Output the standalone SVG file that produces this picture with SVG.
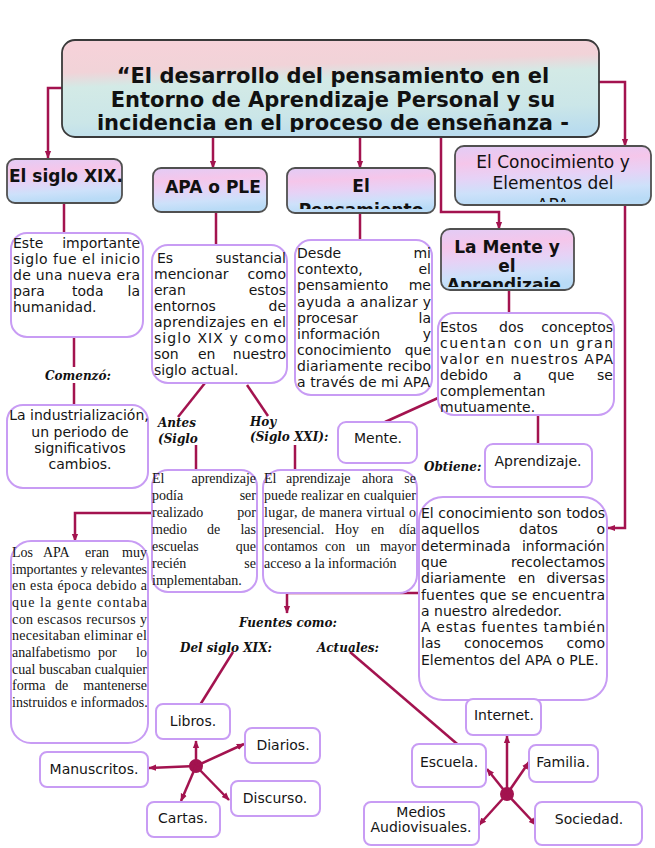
<svg xmlns="http://www.w3.org/2000/svg" width="655" height="848" viewBox="0 0 655 848">
<defs>
<style>
.c{fill:none;stroke:#a3134f;stroke-width:2.5}
.a{fill:none;stroke:#a3134f;stroke-width:2.5;marker-end:url(#ar)}
.box{fill:#fff;stroke:#c89cf4;stroke-width:2}
.hdr{fill:url(#hg);stroke:#505050;stroke-width:1.8}
.t{font-family:"DejaVu Sans",sans-serif;font-size:14px;fill:#151515}
.s{font-family:"Liberation Serif","Times New Roman",serif;font-size:14px;fill:#151515}
.l{font-family:"DejaVu Serif",serif;font-weight:bold;font-style:italic;font-size:12px;fill:#111}
.h{font-family:"DejaVu Sans",sans-serif;font-weight:bold;font-size:17px;fill:#111}
.hr{font-family:"DejaVu Sans",sans-serif;font-size:17px;fill:#111}
.ttl{font-family:"DejaVu Sans",sans-serif;font-weight:bold;font-size:21px;fill:#111}
.e{text-anchor:end}
.m{text-anchor:middle}
</style>
<linearGradient id="tg" x1="0.4" y1="0" x2="0.6" y2="1">
<stop offset="0" stop-color="#f6d2d9"/>
<stop offset="0.25" stop-color="#f1d3d8"/>
<stop offset="0.4" stop-color="#d3eae6"/>
<stop offset="0.75" stop-color="#cbe6e8"/>
<stop offset="1" stop-color="#b9dcee"/>
</linearGradient>
<linearGradient id="hg" x1="0" y1="0" x2="0.15" y2="1">
<stop offset="0" stop-color="#e2ccf6"/>
<stop offset="0.3" stop-color="#f5c6ea"/>
<stop offset="0.55" stop-color="#e6d2f6"/>
<stop offset="0.8" stop-color="#cde1fa"/>
<stop offset="1" stop-color="#b9dbf6"/>
</linearGradient>
<marker id="ar" viewBox="0 0 10 10" refX="9" refY="5" markerWidth="8" markerHeight="8" markerUnits="userSpaceOnUse" orient="auto">
<path d="M0,1 L10,5 L0,9 z" fill="#a3134f"/>
</marker>
<clipPath id="cpT"><rect x="62" y="40" width="537" height="92"/></clipPath>
<clipPath id="cpP"><rect x="287" y="168" width="148" height="41"/></clipPath>
<clipPath id="cpC"><rect x="455" y="146" width="195" height="56"/></clipPath>
<clipPath id="cpM"><rect x="441" y="229" width="133" height="58"/></clipPath>
</defs>

<g id="connectors">
<path class="a" d="M62,88 H48 V158"/>
<path class="a" d="M213,137 V168"/>
<path class="a" d="M360,137 V168"/>
<path class="a" d="M441,137 V212 H499 V229"/>
<path class="a" d="M599,82 H625 V146"/>
<path class="c" d="M64,203 V233"/>
<path class="c" d="M74,337 V367"/>
<path class="c" d="M74,383 V405"/>
<path class="c" d="M216,212 V245"/>
<path class="c" d="M205,383 L178,417"/>
<path class="c" d="M247,385 L268,416"/>
<path class="c" d="M196,445 V470"/>
<path class="c" d="M295,445 V470"/>
<path class="a" d="M152,513 H75 V541"/>
<path class="c" d="M360,213 V240"/>
<path class="c" d="M509,290 V313"/>
<path class="c" d="M438,398 L385,422"/>
<path class="c" d="M538,415 V444"/>
<path class="a" d="M625,205 V528 H608"/>
<path class="a" d="M419,593 H287 V613"/>
<path class="c" d="M233,652 L200,705"/>
<path class="c" d="M350,652 L463,749"/>
<circle cx="196" cy="766" r="7" fill="#a3134f"/>
<path class="a" d="M196,766 V741"/>
<path class="a" d="M196,766 L244,744"/>
<path class="a" d="M196,766 L149,768"/>
<path class="a" d="M196,766 L229,800"/>
<path class="a" d="M196,766 L181,801"/>
<circle cx="507" cy="794" r="7" fill="#a3134f"/>
<path class="a" d="M507,794 V736"/>
<path class="a" d="M507,794 L487,769"/>
<path class="a" d="M507,794 L529,762"/>
<path class="a" d="M507,794 L479,825"/>
<path class="a" d="M507,794 L536,825"/>
</g>

<g id="title">
<rect x="62" y="40" width="537" height="97" rx="13" fill="url(#tg)" stroke="#3a3a3a" stroke-width="1.8"/>
<g clip-path="url(#cpT)">
<text class="ttl m" x="333" y="83">“El desarrollo del pensamiento en el</text>
<text class="ttl m" x="333" y="107">Entorno de Aprendizaje Personal y su</text>
<text class="ttl m" x="333" y="130">incidencia en el proceso de enseñanza -</text>
</g>
</g>

<g id="n-sigloXIX">
<rect class="hdr" x="7" y="159" width="115" height="44" rx="8"/>
<text class="h" x="9" y="182">El siglo XIX.</text>
</g>

<g id="n-apaple">
<rect class="hdr" x="153" y="168" width="114" height="44" rx="8"/>
<text class="h m" x="213" y="193">APA o PLE</text>
</g>

<g id="n-pensamiento">
<rect class="hdr" x="287" y="168" width="148" height="45" rx="8"/>
<g clip-path="url(#cpP)">
<text class="h m" x="361" y="192">El</text>
<text class="h m" x="361" y="216">Pensamiento</text>
</g>
</g>

<g id="n-conocimiento">
<rect class="hdr" x="455" y="146" width="196" height="59" rx="9"/>
<g clip-path="url(#cpC)">
<text class="hr m" x="553" y="168">El Conocimiento y</text>
<text class="hr m" x="553" y="189">Elementos del</text>
<text class="hr m" x="553" y="211">APA</text>
</g>
</g>

<g id="n-mente">
<rect class="hdr" x="441" y="229" width="133" height="61" rx="9"/>
<g clip-path="url(#cpM)">
<text class="h m" x="507" y="253">La Mente y</text>
<text class="h m" x="507" y="272">el</text>
<text class="h m" x="507" y="291">Aprendizaje.</text>
</g>
</g>

<g id="n-este">
<rect class="box" x="11" y="233" width="132" height="104" rx="16"/>
<text class="t" x="13" y="248">Este</text><text class="t e" x="140" y="248">importante</text>
<text class="t" x="13" y="264" textLength="127" lengthAdjust="spacing">siglo fue el inicio</text>
<text class="t" x="13" y="280" textLength="127" lengthAdjust="spacing">de una nueva era</text>
<text class="t" x="13" y="296">para</text><text class="t" x="72" y="296">toda</text><text class="t e" x="140" y="296">la</text>
<text class="t" x="13" y="312">humanidad.</text>
</g>

<g id="l-comenzo">
<text class="l" x="45" y="380">Comenzó:</text>
</g>

<g id="n-industrializacion">
<rect class="box" x="7" y="405" width="141" height="83" rx="16"/>
<text class="t m" x="79" y="420">La industrialización,</text>
<text class="t m" x="80" y="437">un periodo de</text>
<text class="t m" x="80" y="453">significativos</text>
<text class="t m" x="80" y="469">cambios.</text>
</g>

<g id="n-sustancial">
<rect class="box" x="152" y="245" width="135" height="138" rx="16"/>
<text class="t" x="157" y="263">Es</text><text class="t e" x="286" y="263">sustancial</text>
<text class="t" x="154" y="279">mencionar</text><text class="t e" x="286" y="279">como</text>
<text class="t" x="154" y="295">eran</text><text class="t e" x="286" y="295">estos</text>
<text class="t" x="154" y="311">entornos</text><text class="t e" x="286" y="311">de</text>
<text class="t" x="154" y="327" textLength="132" lengthAdjust="spacing">aprendizajes en el</text>
<text class="t" x="154" y="343" textLength="132" lengthAdjust="spacing">siglo XIX y como</text>
<text class="t" x="154" y="359">son</text><text class="t" x="198" y="359">en</text><text class="t e" x="286" y="359">nuestro</text>
<text class="t" x="154" y="375">siglo actual.</text>
</g>

<g id="l-antes">
<text class="l" x="158" y="427">Antes</text>
<text class="l" x="158" y="443">(Siglo</text>
</g>
<g id="l-hoy">
<text class="l" x="250" y="426">Hoy</text>
<text class="l" x="250" y="441">(Siglo XXI):</text>
</g>

<g id="n-podia">
<rect class="box" x="152" y="470" width="105" height="122" rx="16"/>
<text class="s" x="152" y="483">El</text><text class="s e" x="256" y="483">aprendizaje</text>
<text class="s" x="152" y="500">podía</text><text class="s e" x="256" y="500">ser</text>
<text class="s" x="152" y="517">realizado</text><text class="s e" x="256" y="517">por</text>
<text class="s" x="152" y="534">medio</text><text class="s" x="207" y="534">de</text><text class="s e" x="256" y="534">las</text>
<text class="s" x="152" y="551">escuelas</text><text class="s e" x="256" y="551">que</text>
<text class="s" x="152" y="568">recién</text><text class="s e" x="256" y="568">se</text>
<text class="s" x="152" y="585">implementaban.</text>
</g>

<g id="n-ahora">
<rect class="box" x="263" y="470" width="154" height="123" rx="18"/>
<text class="s" x="264" y="483">El</text><text class="s" x="286" y="483">aprendizaje</text><text class="s" x="362" y="483">ahora</text><text class="s e" x="416" y="483">se</text>
<text class="s" x="264" y="500" textLength="152" lengthAdjust="spacing">puede realizar en cualquier</text>
<text class="s" x="264" y="517" textLength="152" lengthAdjust="spacing">lugar, de manera virtual o</text>
<text class="s" x="264" y="534">presencial.</text><text class="s" x="335" y="534">Hoy</text><text class="s" x="371" y="534">en</text><text class="s e" x="416" y="534">día</text>
<text class="s" x="264" y="551">contamos</text><text class="s" x="325" y="551">con</text><text class="s" x="356" y="551">un</text><text class="s e" x="416" y="551">mayor</text>
<text class="s" x="264" y="568">acceso a la información</text>
</g>

<g id="n-desde">
<rect class="box" x="295" y="240" width="137" height="155" rx="16"/>
<text class="t" x="297" y="258">Desde</text><text class="t e" x="431" y="258">mi</text>
<text class="t" x="297" y="274">contexto,</text><text class="t e" x="431" y="274">el</text>
<text class="t" x="297" y="290">pensamiento</text><text class="t e" x="431" y="290">me</text>
<text class="t" x="297" y="306.5" textLength="134" lengthAdjust="spacing">ayuda a analizar y</text>
<text class="t" x="297" y="322.5">procesar</text><text class="t e" x="431" y="322.5">la</text>
<text class="t" x="297" y="338.5">información</text><text class="t e" x="431" y="338.5">y</text>
<text class="t" x="297" y="354.5">conocimiento</text><text class="t e" x="431" y="354.5">que</text>
<text class="t" x="297" y="371" textLength="134" lengthAdjust="spacing">diariamente recibo</text>
<text class="t" x="297" y="387" textLength="133" lengthAdjust="spacing">a través de mi APA</text>
</g>

<g id="n-estos">
<rect class="box" x="438" y="313" width="176" height="102" rx="16"/>
<text class="t" x="440" y="332">Estos</text><text class="t" x="499" y="332">dos</text><text class="t e" x="613" y="332">conceptos</text>
<text class="t" x="440" y="348" textLength="173" lengthAdjust="spacing">cuentan con un gran</text>
<text class="t" x="440" y="364" textLength="173" lengthAdjust="spacing">valor en nuestros APA</text>
<text class="t" x="440" y="380">debido</text><text class="t" x="513" y="380">a</text><text class="t" x="548" y="380">que</text><text class="t e" x="613" y="380">se</text>
<text class="t" x="440" y="396">complementan</text>
<text class="t" x="440" y="412">mutuamente.</text>
</g>

<g id="n-mente-leaf">
<rect class="box" x="338" y="422" width="79" height="41" rx="8"/>
<text class="t m" x="378" y="443">Mente.</text>
</g>

<g id="l-obtiene">
<text class="l" x="424" y="471">Obtiene:</text>
</g>

<g id="n-aprendizaje">
<rect class="box" x="485" y="444" width="107" height="43" rx="8"/>
<text class="t m" x="538" y="466">Aprendizaje.</text>
</g>

<g id="n-conocimiento-def">
<rect class="box" x="419" y="497" width="188" height="203" rx="24"/>
<text class="t" x="421" y="518" textLength="184" lengthAdjust="spacing">El conocimiento son todos</text>
<text class="t" x="421" y="534.3">aquellos</text><text class="t" x="519" y="534.3">datos</text><text class="t e" x="605" y="534.3">o</text>
<text class="t" x="421" y="550.6">determinada</text><text class="t e" x="605" y="550.6">información</text>
<text class="t" x="421" y="566.9">que</text><text class="t e" x="605" y="566.9">recolectamos</text>
<text class="t" x="421" y="583.2">diariamente</text><text class="t" x="518" y="583.2">en</text><text class="t e" x="605" y="583.2">diversas</text>
<text class="t" x="421" y="599.5" textLength="184" lengthAdjust="spacing">fuentes que se encuentra</text>
<text class="t" x="421" y="615.8">a nuestro alrededor.</text>
<text class="t" x="421" y="632.1" textLength="184" lengthAdjust="spacing">A estas fuentes también</text>
<text class="t" x="421" y="648.4">las</text><text class="t" x="464" y="648.4">conocemos</text><text class="t e" x="605" y="648.4">como</text>
<text class="t" x="421" y="664.7">Elementos del APA o PLE.</text>
</g>

<g id="n-losapa">
<rect class="box" x="11" y="541" width="137" height="202" rx="20"/>
<text class="s" x="12" y="557">Los</text><text class="s" x="43" y="557">APA</text><text class="s" x="85" y="557">eran</text><text class="s e" x="147" y="557">muy</text>
<text class="s" x="12" y="574" textLength="135" lengthAdjust="spacing">importantes y relevantes</text>
<text class="s" x="12" y="590" textLength="135" lengthAdjust="spacing">en esta época debido a</text>
<text class="s" x="12" y="607" textLength="135" lengthAdjust="spacing">que la gente contaba</text>
<text class="s" x="12" y="624" textLength="135" lengthAdjust="spacing">con escasos recursos y</text>
<text class="s" x="12" y="640" textLength="135" lengthAdjust="spacing">necesitaban eliminar el</text>
<text class="s" x="12" y="657">analfabetismo</text><text class="s" x="98" y="657">por</text><text class="s e" x="147" y="657">lo</text>
<text class="s" x="12" y="674" textLength="135" lengthAdjust="spacing">cual buscaban cualquier</text>
<text class="s" x="12" y="690">forma</text><text class="s" x="55" y="690">de</text><text class="s e" x="147" y="690">mantenerse</text>
<text class="s" x="12" y="707">instruidos e informados.</text>
</g>

<g id="l-fuentes">
<text class="l" x="239" y="627">Fuentes como:</text>
</g>
<g id="l-delsiglo">
<text class="l" x="180" y="652">Del siglo XIX:</text>
</g>
<g id="l-actuales">
<text class="l" x="317" y="652">Actuales:</text>
</g>

<g id="n-libros">
<rect class="box" x="156" y="704" width="74" height="35" rx="7"/>
<text class="t m" x="193" y="726">Libros.</text>
</g>
<g id="n-diarios">
<rect class="box" x="245" y="728" width="75" height="35" rx="7"/>
<text class="t m" x="283" y="750">Diarios.</text>
</g>
<g id="n-manuscritos">
<rect class="box" x="40" y="752" width="108" height="35" rx="7"/>
<text class="t m" x="94" y="774">Manuscritos.</text>
</g>
<g id="n-discurso">
<rect class="box" x="231" y="781" width="89" height="35" rx="7"/>
<text class="t m" x="275" y="803">Discurso.</text>
</g>
<g id="n-cartas">
<rect class="box" x="147" y="802" width="73" height="35" rx="7"/>
<text class="t m" x="183" y="823">Cartas.</text>
</g>

<g id="n-internet">
<rect class="box" x="466" y="699" width="75" height="36" rx="7"/>
<text class="t m" x="504" y="720">Internet.</text>
</g>
<g id="n-escuela">
<rect class="box" x="412" y="744" width="74" height="43" rx="7"/>
<text class="t m" x="449" y="767">Escuela.</text>
</g>
<g id="n-familia">
<rect class="box" x="529" y="745" width="69" height="37" rx="7"/>
<text class="t m" x="563" y="767">Familia.</text>
</g>
<g id="n-medios">
<rect class="box" x="364" y="802" width="115" height="43" rx="7"/>
<text class="t m" x="421" y="817">Medios</text>
<text class="t m" x="421" y="832">Audiovisuales.</text>
</g>
<g id="n-sociedad">
<rect class="box" x="535" y="802" width="107" height="43" rx="7"/>
<text class="t m" x="589" y="824">Sociedad.</text>
</g>
</svg>
